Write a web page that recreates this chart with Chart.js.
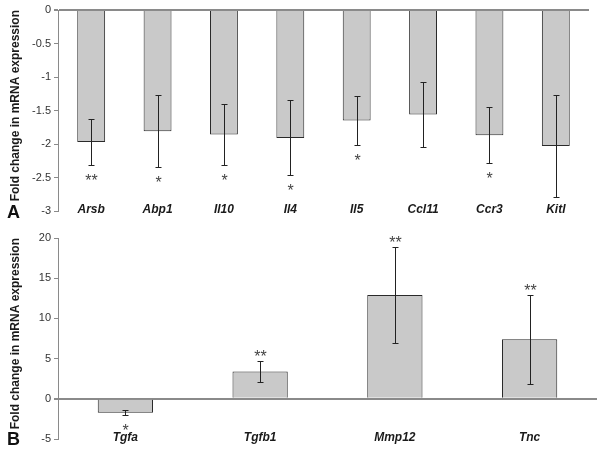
<!DOCTYPE html>
<html>
<head>
<meta charset="utf-8">
<script src="https://cdn.jsdelivr.net/npm/chart.js@4"></script>
<style>
  html, body { margin: 0; padding: 0; background: #fff; }
  #wrap { position: relative; width: 604px; height: 452px; overflow: hidden; }
  canvas { position: absolute; left: 0; }
  #chartA { top: 0; }
  #chartB { top: 225px; }
  .panel { position: absolute; left: 7px; font: bold 18px "Liberation Sans", Arial, sans-serif; color: #111; line-height: 18px; }
</style>
</head>
<body>
<div id="wrap">
  <canvas id="chartA" width="604" height="225"></canvas>
  <canvas id="chartB" width="604" height="227"></canvas>
  <div class="panel" style="top:203px">A</div>
  <div class="panel" style="top:430px">B</div>
</div>
<script>
// panel A: down-regulated genes
const genesA = ['Arsb', 'Abp1', 'Il10', 'Il4', 'Il5', 'Ccl11', 'Ccr3', 'Kitl'];
const meanA = [-1.97, -1.81, -1.86, -1.91, -1.65, -1.56, -1.87, -2.03];
const errA = [0.35, 0.54, 0.46, 0.56, 0.37, 0.49, 0.42, 0.76];
const sigA = ['**', '*', '*', '*', '*', '', '*', ''];

// panel B
const genesB = ['Tgfa', 'Tgfb1', 'Mmp12', 'Tnc'];
const meanB = [-1.75, 3.4, 12.9, 7.4];
const errB = [0.3, 1.3, 6.0, 5.5];
const sigB = ['*', '**', '**', '**'];

const yTitle = 'Fold change in mRNA expression';
const FONT = '"Liberation Sans", Arial, sans-serif';
const AXIS_GREY = '#8a8a8a';

// error bars, significance stars and the gene names (which sit on the bottom edge of the plot)
const errorBarPlugin = {
    id: 'errorBars',
    afterDatasetsDraw(chart, args, opts) {
        const { ctx, chartArea, scales: { x, y } } = chart;
        const means = opts.means, errs = opts.errs, sig = opts.sig;
        ctx.save();
        ctx.strokeStyle = '#222';
        ctx.lineWidth = 1;
        means.forEach((m, i) => {
            const px = Math.round(x.getPixelForValue(i)) + 0.5;
            const yHi = Math.round(y.getPixelForValue(m + errs[i])) + 0.5;
            const yLo = Math.round(y.getPixelForValue(m - errs[i])) + 0.5;
            ctx.beginPath();
            ctx.moveTo(px, yHi); ctx.lineTo(px, yLo);
            ctx.moveTo(px - 3, yHi); ctx.lineTo(px + 3, yHi);
            ctx.moveTo(px - 3, yLo); ctx.lineTo(px + 3, yLo);
            ctx.stroke();

            if (sig[i]) {
                const fs = 16;
                const cy = m < 0 ? yLo + 11 : yHi - 9;
                ctx.fillStyle = '#444';
                ctx.font = fs + 'px ' + FONT;
                ctx.textAlign = 'center';
                ctx.textBaseline = 'alphabetic';
                ctx.fillText(sig[i], px, cy + fs * 0.58);
            }
        });

        ctx.fillStyle = '#1a1a1a';
        ctx.font = 'italic bold 12px ' + FONT;
        ctx.textAlign = 'center';
        ctx.textBaseline = 'middle';
        chart.data.labels.forEach((lab, i) => {
            ctx.fillText(lab, x.getPixelForValue(i), chartArea.bottom - 1);
        });
        ctx.restore();
    }
};

function makeChart(id, labels, means, errs, sig, yMin, yMax, step, pad, barFrac) {
    const ctx = document.getElementById(id).getContext('2d');
    return new Chart(ctx, {
        type: 'bar',
        data: {
            labels: labels,
            datasets: [{
                data: means,
                backgroundColor: '#c9c9c9',
                borderColor: '#2a2a2a',
                borderWidth: 1,
                categoryPercentage: 1,
                barPercentage: barFrac
            }]
        },
        options: {
            responsive: false,
            animation: false,
            layout: { padding: pad },
            plugins: {
                legend: { display: false },
                tooltip: { enabled: false },
                errorBars: { means: means, errs: errs, sig: sig }
            },
            scales: {
                x: {
                    grid: { display: false, drawTicks: false },
                    border: { display: false },
                    ticks: { display: false }
                },
                y: {
                    min: yMin,
                    max: yMax,
                    afterFit: s => { s.width = 50; },
                    ticks: {
                        stepSize: step,
                        padding: 3,
                        color: '#333',
                        font: { family: FONT, size: 11 },
                        callback: v => String(v)
                    },
                    grid: {
                        color: c => c.tick && c.tick.value === 0 ? AXIS_GREY : 'rgba(0,0,0,0)',
                        lineWidth: c => c.tick && c.tick.value === 0 ? 2 : 1,
                        tickColor: AXIS_GREY,
                        tickLength: 4
                    },
                    border: { color: AXIS_GREY, width: 1 },
                    title: {
                        display: true,
                        text: yTitle,
                        align: 'end',
                        color: '#1a1a1a',
                        padding: { top: 0, bottom: 0 },
                        font: { family: FONT, size: 12, weight: 'bold' }
                    }
                }
            }
        },
        plugins: [errorBarPlugin]
    });
}

makeChart('chartA', genesA, meanA, errA, sigA, -3, 0, 0.5,
    { top: 10, right: 15, bottom: 14, left: 8 }, 0.42);
makeChart('chartB', genesB, meanB, errB, sigB, -5, 20, 5,
    { top: 13, right: 7, bottom: 13, left: 8 }, 0.41);
</script>
</body>
</html>
